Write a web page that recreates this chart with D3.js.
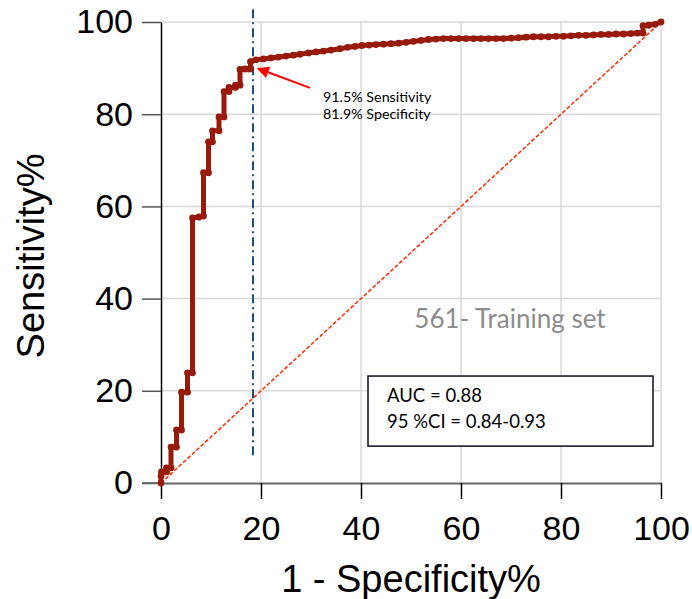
<html>
<head>
<title>ROC</title>
<script src="https://d3js.org/d3.v7.min.js"></script>
<style>
  body { margin: 0; background: #fff; }
</style>
</head>
<body>
<svg class="roc"></svg>
<script>

    // ROC curve, 1 - specificity (%) vs sensitivity (%)
    var fpr = [0, 0, 0.1, 1.1, 1.1, 2.0, 2.0, 3.1, 3.1, 4.1, 4.1, 5.3, 5.3, 6.3, 6.3, 7.6, 8.5, 8.5,
        9.5, 9.5, 10.3, 10.3, 11.6, 11.6, 12.6, 12.6, 13.6, 13.6, 14.9, 14.9, 15.8, 15.8, 16.8, 17.7, 17.9, 17.9,
        19.0, 20.5, 22.0, 23.5, 25.0, 26.5, 27.8, 29.5, 31.0, 32.5, 34.0, 35.8, 37.3, 38.8, 40.2, 41.6,
        43.0, 44.5, 46.0, 47.5, 49.0, 50.5, 52.0, 53.5, 55.0, 56.5, 58.0, 59.5, 61.0, 62.5, 64.0, 65.5,
        67.0, 68.5, 70.0, 71.5, 73.0, 74.5, 76.0, 77.5, 79.0, 80.5, 82.0, 83.5, 85.0, 86.5, 88.0, 89.5,
        91.0, 92.5, 94.0, 95.3, 96.4, 96.4, 97.5, 98.8, 100];
    var tpr = [0, 1.5, 2.4, 2.4, 3.3, 3.3, 7.8, 7.8, 11.5, 11.5, 19.7, 19.7, 23.9, 23.9, 57.5, 57.7, 57.9, 67.3,
        67.3, 74.0, 74.0, 76.4, 76.4, 79.4, 79.4, 84.9, 84.9, 85.8, 85.8, 86.3, 86.3, 89.7, 89.8, 89.8, 89.9, 91.4,
        91.8, 92.0, 92.2, 92.4, 92.6, 92.8, 93.0, 93.3, 93.5, 93.7, 93.9, 94.2, 94.5, 94.7, 94.9, 95.0,
        95.1, 95.2, 95.3, 95.4, 95.6, 95.8, 96.0, 96.2, 96.3, 96.4, 96.4, 96.4, 96.4, 96.4, 96.4, 96.4,
        96.4, 96.4, 96.5, 96.6, 96.7, 96.8, 96.8, 96.8, 96.9, 96.9, 97.0, 97.1, 97.1, 97.2, 97.3, 97.3,
        97.4, 97.4, 97.5, 97.6, 97.6, 99.2, 99.3, 99.5, 100];

    var xTicks = [0, 20, 40, 60, 80, 100];
    var yTicks = [0, 20, 40, 60, 80, 100];
    var cutoff = 18.4;        // cut-off: 81.9% specificity
    var cutLine = [6, 103];   // vertical extent of cut-off line
    var annot = ["91.5% Sensitivity", "81.9% Specificity"];
    var stats = ["AUC = 0.88", "95 %CI = 0.84-0.93"];
    var setLabel = "561- Training set";

    var svgWidth = 692, svgHeight = 599;
    var plotL = 161, plotR = 661, plotT = 22, plotB = 483;
    var arial = '"Liberation Sans", Arial, sans-serif';
    var calibri = 'Lato, "Open Sans", sans-serif';

    var svg = d3.select('svg')
        .attr('width', svgWidth)
        .attr('height', svgHeight);

    var x = d3.scaleLinear().domain([0, 100]).range([plotL, plotR]);
    var y = d3.scaleLinear().domain([0, 100]).range([plotB, plotT]);

    // grid
    svg.append('g')
        .selectAll('line')
        .data(xTicks.slice(1))
        .enter().append('line')
        .attr('x1', function (d) { return x(d); })
        .attr('x2', function (d) { return x(d); })
        .attr('y1', y(100)).attr('y2', y(0))
        .attr('stroke', '#d9d9d9').attr('stroke-width', 1.5);
    svg.append('g')
        .selectAll('line')
        .data(yTicks.slice(1))
        .enter().append('line')
        .attr('y1', function (d) { return y(d); })
        .attr('y2', function (d) { return y(d); })
        .attr('x1', x(0)).attr('x2', x(100))
        .attr('stroke', '#d9d9d9').attr('stroke-width', 1.5);

    // axes
    var yAxis = svg.append('g')
        .attr('transform', 'translate(' + plotL + ',0)')
        .call(d3.axisLeft(y).tickValues(yTicks).tickSize(19).tickPadding(9).tickSizeOuter(0));
    yAxis.select('.domain').attr('stroke', '#000').attr('stroke-width', 1.5);
    yAxis.selectAll('.tick line').attr('stroke', '#555').attr('stroke-width', 1.5);

    var xAxis = svg.append('g')
        .attr('transform', 'translate(0,' + plotB + ')')
        .call(d3.axisBottom(x).tickValues(xTicks).tickSize(16).tickPadding(17).tickSizeOuter(0));
    xAxis.select('.domain').attr('stroke', '#666').attr('stroke-width', 1.8);
    xAxis.selectAll('.tick line').attr('stroke', '#000').attr('stroke-width', 1.5);
    // x-axis baseline continues left under the y ticks
    xAxis.append('line').attr('x1', plotL - 19).attr('x2', plotL)
        .attr('stroke', '#666').attr('stroke-width', 1.8);

    svg.selectAll('.tick text')
        .style('font-family', arial)
        .style('font-size', '34px')
        .attr('fill', '#000');

    // axis titles
    svg.append('text')
        .attr('x', 411).attr('y', 592)
        .attr('text-anchor', 'middle')
        .style('font-family', arial)
        .style('font-size', '38px')
        .text('1 - Specificity%');
    svg.append('text')
        .attr('transform', 'translate(44,256) rotate(-90)')
        .attr('text-anchor', 'middle')
        .style('font-family', arial)
        .style('font-size', '38px')
        .text('Sensitivity%');

    // reference diagonal
    svg.append('line')
        .attr('x1', x(0)).attr('y1', y(0))
        .attr('x2', x(100)).attr('y2', y(100))
        .attr('stroke', '#ff2a00').attr('stroke-width', 1.5)
        .attr('stroke-dasharray', '4,2');

    // cut-off line
    svg.append('line')
        .attr('x1', x(cutoff)).attr('x2', x(cutoff))
        .attr('y1', y(cutLine[0])).attr('y2', y(cutLine[1]))
        .attr('stroke', '#1f4e79').attr('stroke-width', 2)
        .attr('stroke-dasharray', '9,4,2,4');

    // ROC curve
    var pts = fpr.map(function (d, i) { return [d, tpr[i]]; });
    var line = d3.line()
        .x(function (d) { return x(d[0]); })
        .y(function (d) { return y(d[1]); });
    svg.append('path')
        .datum(pts)
        .attr('d', line)
        .attr('fill', 'none')
        .attr('stroke', '#981a0b')
        .attr('stroke-width', 5)
        .attr('stroke-linejoin', 'round');
    svg.selectAll('circle.pt')
        .data(pts)
        .enter().append('circle')
        .attr('cx', function (d) { return x(d[0]); })
        .attr('cy', function (d) { return y(d[1]); })
        .attr('r', 3.4)
        .attr('fill', '#981a0b');

    // arrow annotation
    svg.append('defs').append('marker')
        .attr('id', 'arr')
        .attr('viewBox', '0 0 10 10')
        .attr('refX', 9).attr('refY', 5)
        .attr('markerWidth', 7).attr('markerHeight', 6)
        .attr('markerUnits', 'strokeWidth')
        .attr('orient', 'auto')
        .append('path').attr('d', 'M0,0L10,5L0,10z').attr('fill', '#ff0000');
    svg.append('line')
        .attr('x1', x(29.8)).attr('y1', y(85.7))
        .attr('x2', x(19.4)).attr('y2', y(89.9))
        .attr('stroke', '#ff0000').attr('stroke-width', 2)
        .attr('marker-end', 'url(#arr)');
    svg.selectAll('text.annot')
        .data(annot)
        .enter().append('text')
        .attr('x', x(32.4))
        .attr('y', function (d, i) { return y(82.6) + i * 17; })
        .style('font-family', calibri)
        .style('font-size', '14.3px')
        .attr('fill', '#000')
        .text(function (d) { return d; });

    // set label
    svg.append('text')
        .attr('x', x(69.8)).attr('y', y(33.6))
        .attr('text-anchor', 'middle')
        .style('font-family', calibri)
        .style('font-size', '26px')
        .attr('fill', '#8c8c8c')
        .text(setLabel);

    // stats box
    svg.append('rect')
        .attr('x', x(41.4)).attr('y', y(23.2))
        .attr('width', x(98.4) - x(41.4))
        .attr('height', y(8.0) - y(23.2))
        .attr('fill', '#fff')
        .attr('stroke', '#1a1a2e').attr('stroke-width', 1.6);
    svg.selectAll('text.stat')
        .data(stats)
        .enter().append('text')
        .attr('x', x(45.2))
        .attr('y', function (d, i) { return y(17.6) + i * 26; })
        .style('font-family', calibri)
        .style('font-size', '18.5px')
        .attr('fill', '#000')
        .text(function (d) { return d; });

</script>
</body>
</html>
